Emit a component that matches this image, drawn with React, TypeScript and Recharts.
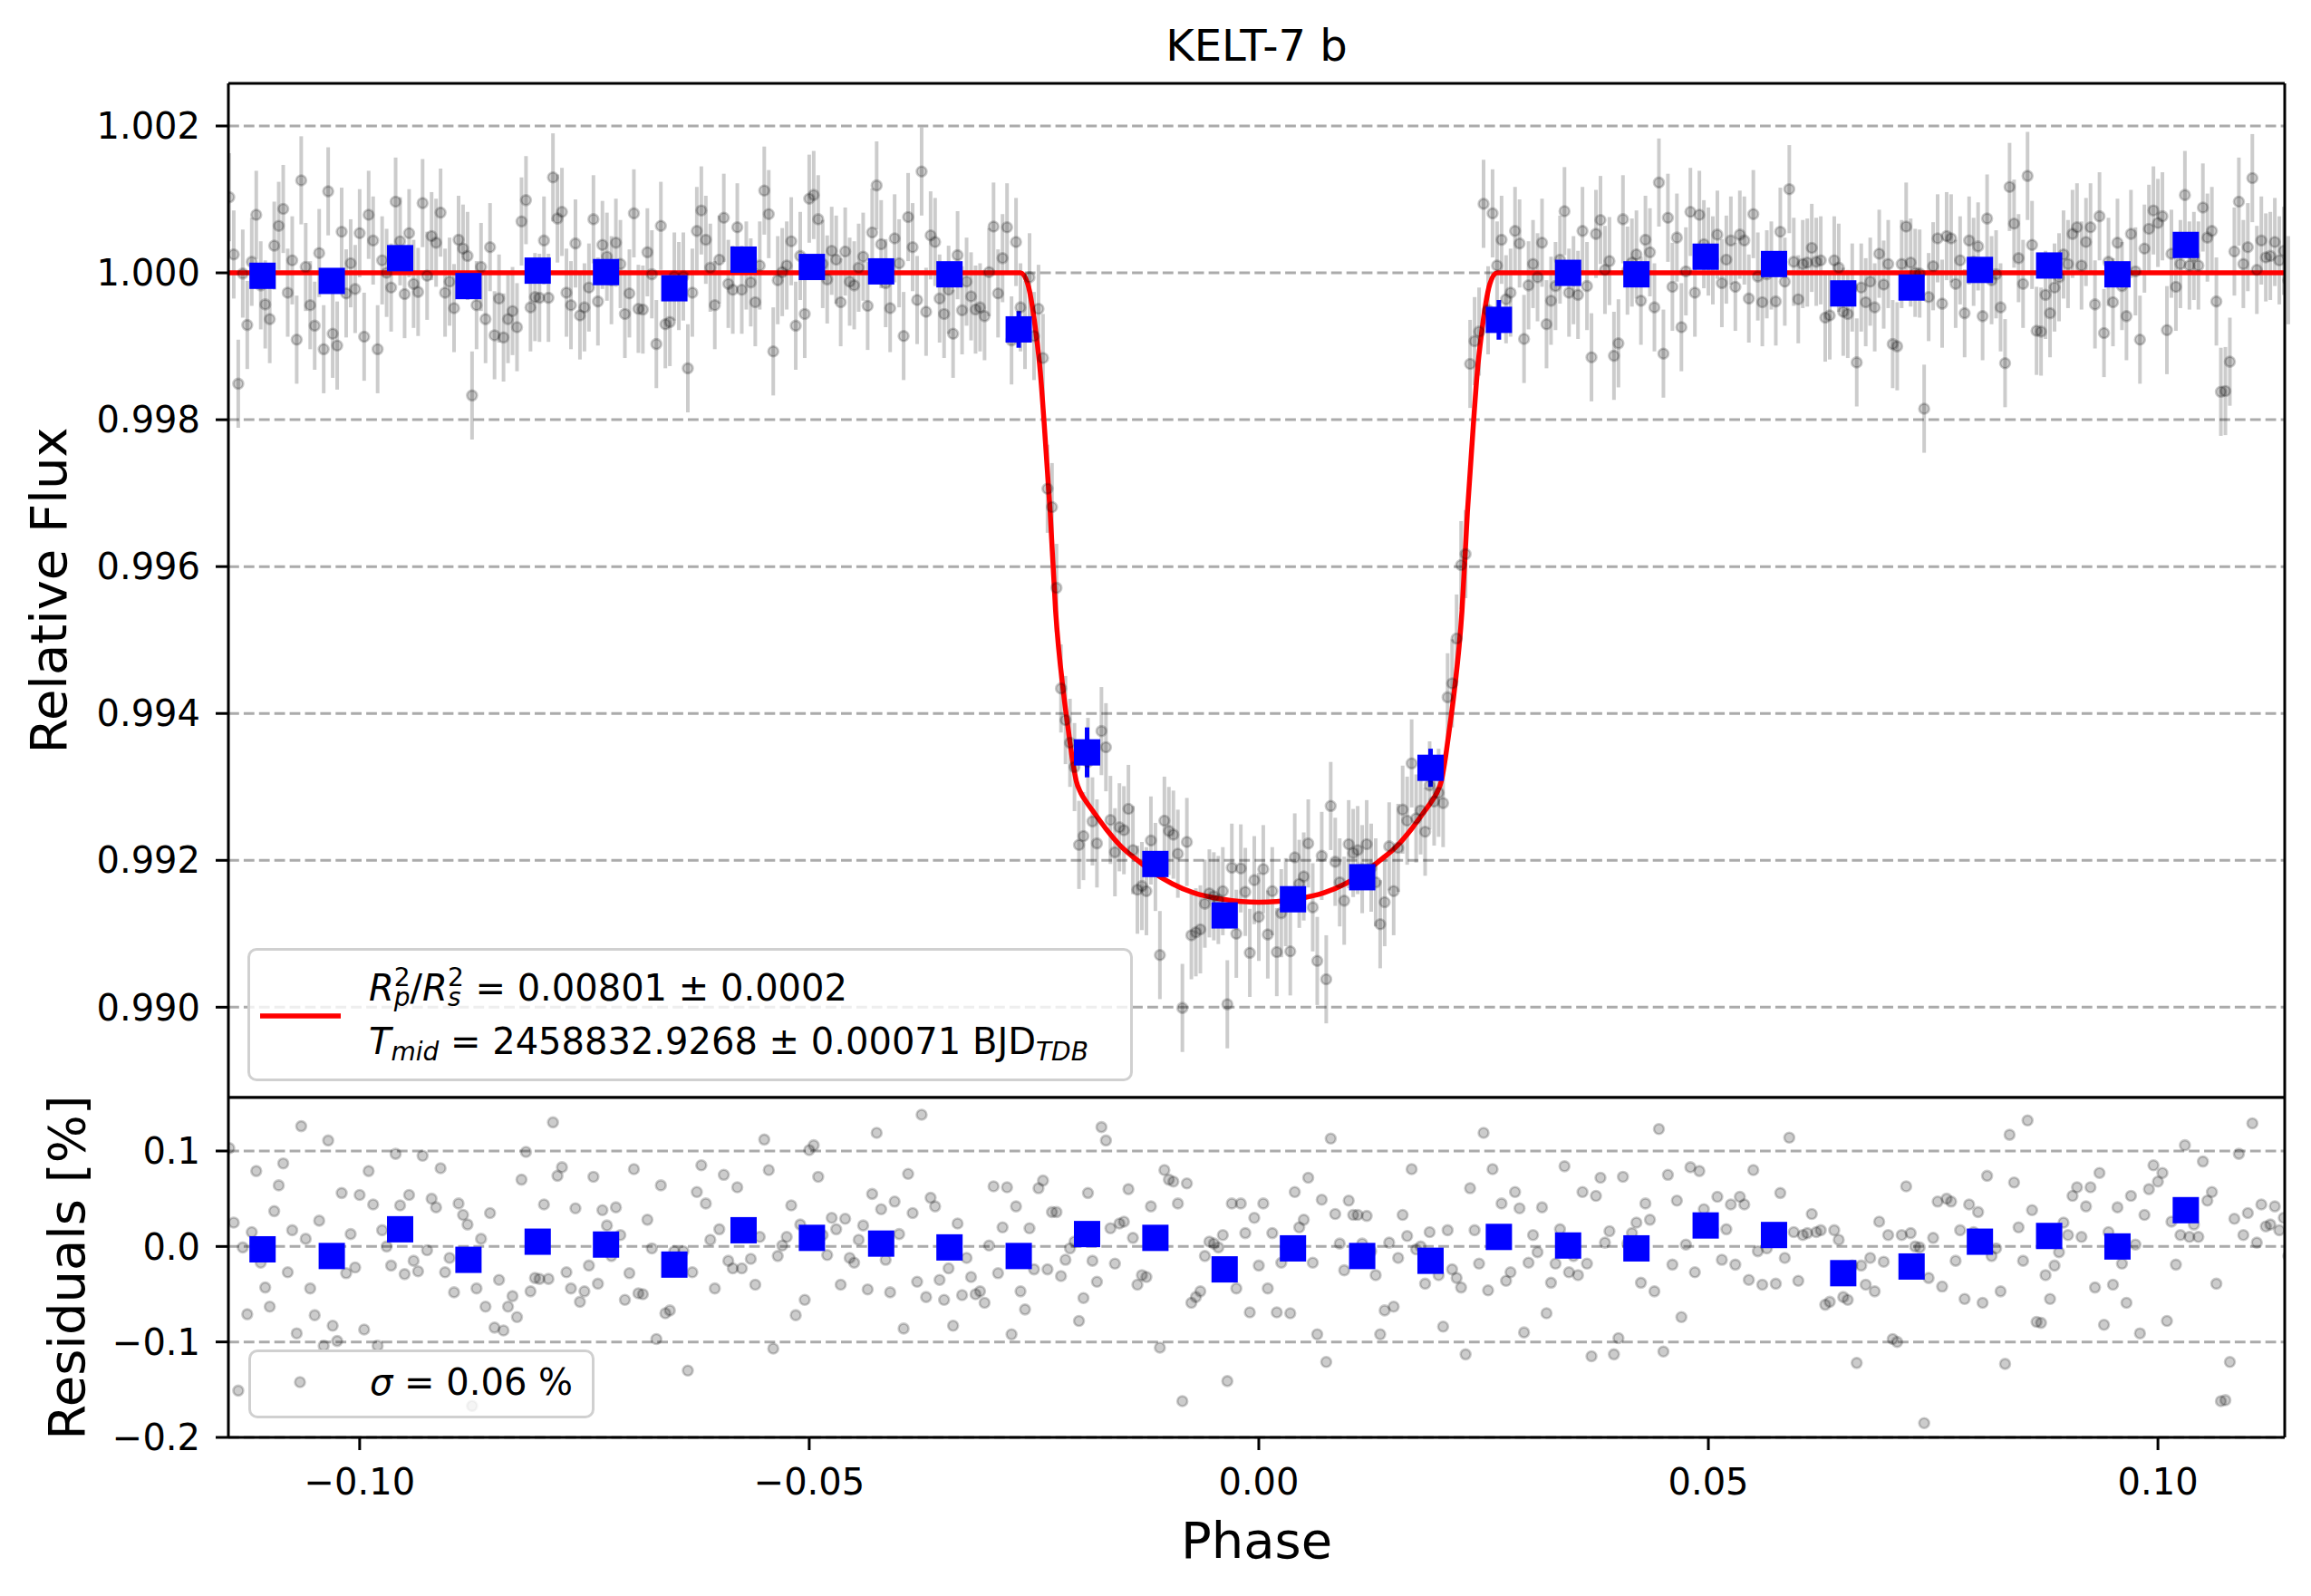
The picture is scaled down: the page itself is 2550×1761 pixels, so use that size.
import React from "react";
import {
  ComposedChart,
  Scatter,
  Line,
  XAxis,
  YAxis,
  CartesianGrid,
  ErrorBar,
  Legend,
  Label,
} from "recharts";

// phase-folded light curve, one point every 0.0005 in phase
const PHASE = [
  -0.1145, -0.114, -0.1135, -0.113, -0.1125, -0.112, -0.1115, -0.111, -0.1105, -0.11,
  -0.1095, -0.109, -0.1085, -0.108, -0.1075, -0.107, -0.1065, -0.106, -0.1055, -0.105,
  -0.1045, -0.104, -0.1035, -0.103, -0.1025, -0.102, -0.1015, -0.101, -0.1005, -0.1,
  -0.0995, -0.099, -0.0985, -0.098, -0.0975, -0.097, -0.0965, -0.096, -0.0955, -0.095,
  -0.0945, -0.094, -0.0935, -0.093, -0.0925, -0.092, -0.0915, -0.091, -0.0905, -0.09,
  -0.0895, -0.089, -0.0885, -0.088, -0.0875, -0.087, -0.0865, -0.086, -0.0855, -0.085,
  -0.0845, -0.084, -0.0835, -0.083, -0.0825, -0.082, -0.0815, -0.081, -0.0805, -0.08,
  -0.0795, -0.079, -0.0785, -0.078, -0.0775, -0.077, -0.0765, -0.076, -0.0755, -0.075,
  -0.0745, -0.074, -0.0735, -0.073, -0.0725, -0.072, -0.0715, -0.071, -0.0705, -0.07,
  -0.0695, -0.069, -0.0685, -0.068, -0.0675, -0.067, -0.0665, -0.066, -0.0655, -0.065,
  -0.0645, -0.064, -0.0635, -0.063, -0.0625, -0.062, -0.0615, -0.061, -0.0605, -0.06,
  -0.0595, -0.059, -0.0585, -0.058, -0.0575, -0.057, -0.0565, -0.056, -0.0555, -0.055,
  -0.0545, -0.054, -0.0535, -0.053, -0.0525, -0.052, -0.0515, -0.051, -0.0505, -0.05,
  -0.0495, -0.049, -0.0485, -0.048, -0.0475, -0.047, -0.0465, -0.046, -0.0455, -0.045,
  -0.0445, -0.044, -0.0435, -0.043, -0.0425, -0.042, -0.0415, -0.041, -0.0405, -0.04,
  -0.0395, -0.039, -0.0385, -0.038, -0.0375, -0.037, -0.0365, -0.036, -0.0355, -0.035,
  -0.0345, -0.034, -0.0335, -0.033, -0.0325, -0.032, -0.0315, -0.031, -0.0305, -0.03,
  -0.0295, -0.029, -0.0285, -0.028, -0.0275, -0.027, -0.0265, -0.026, -0.0255, -0.025,
  -0.0245, -0.024, -0.0235, -0.023, -0.0225, -0.022, -0.0215, -0.021, -0.0205, -0.02,
  -0.0195, -0.019, -0.0185, -0.018, -0.0175, -0.017, -0.0165, -0.016, -0.0155, -0.015,
  -0.0145, -0.014, -0.0135, -0.013, -0.0125, -0.012, -0.0115, -0.011, -0.0105, -0.01,
  -0.0095, -0.009, -0.0085, -0.008, -0.0075, -0.007, -0.0065, -0.006, -0.0055, -0.005,
  -0.0045, -0.004, -0.0035, -0.003, -0.0025, -0.002, -0.0015, -0.001, -0.0005, 0,
  0.0005, 0.001, 0.0015, 0.002, 0.0025, 0.003, 0.0035, 0.004, 0.0045, 0.005,
  0.0055, 0.006, 0.0065, 0.007, 0.0075, 0.008, 0.0085, 0.009, 0.0095, 0.01,
  0.0105, 0.011, 0.0115, 0.012, 0.0125, 0.013, 0.0135, 0.014, 0.0145, 0.015,
  0.0155, 0.016, 0.0165, 0.017, 0.0175, 0.018, 0.0185, 0.019, 0.0195, 0.02,
  0.0205, 0.021, 0.0215, 0.022, 0.0225, 0.023, 0.0235, 0.024, 0.0245, 0.025,
  0.0255, 0.026, 0.0265, 0.027, 0.0275, 0.028, 0.0285, 0.029, 0.0295, 0.03,
  0.0305, 0.031, 0.0315, 0.032, 0.0325, 0.033, 0.0335, 0.034, 0.0345, 0.035,
  0.0355, 0.036, 0.0365, 0.037, 0.0375, 0.038, 0.0385, 0.039, 0.0395, 0.04,
  0.0405, 0.041, 0.0415, 0.042, 0.0425, 0.043, 0.0435, 0.044, 0.0445, 0.045,
  0.0455, 0.046, 0.0465, 0.047, 0.0475, 0.048, 0.0485, 0.049, 0.0495, 0.05,
  0.0505, 0.051, 0.0515, 0.052, 0.0525, 0.053, 0.0535, 0.054, 0.0545, 0.055,
  0.0555, 0.056, 0.0565, 0.057, 0.0575, 0.058, 0.0585, 0.059, 0.0595, 0.06,
  0.0605, 0.061, 0.0615, 0.062, 0.0625, 0.063, 0.0635, 0.064, 0.0645, 0.065,
  0.0655, 0.066, 0.0665, 0.067, 0.0675, 0.068, 0.0685, 0.069, 0.0695, 0.07,
  0.0705, 0.071, 0.0715, 0.072, 0.0725, 0.073, 0.0735, 0.074, 0.0745, 0.075,
  0.0755, 0.076, 0.0765, 0.077, 0.0775, 0.078, 0.0785, 0.079, 0.0795, 0.08,
  0.0805, 0.081, 0.0815, 0.082, 0.0825, 0.083, 0.0835, 0.084, 0.0845, 0.085,
  0.0855, 0.086, 0.0865, 0.087, 0.0875, 0.088, 0.0885, 0.089, 0.0895, 0.09,
  0.0905, 0.091, 0.0915, 0.092, 0.0925, 0.093, 0.0935, 0.094, 0.0945, 0.095,
  0.0955, 0.096, 0.0965, 0.097, 0.0975, 0.098, 0.0985, 0.099, 0.0995, 0.1,
  0.1005, 0.101, 0.1015, 0.102, 0.1025, 0.103, 0.1035, 0.104, 0.1045, 0.105,
  0.1055, 0.106, 0.1065, 0.107, 0.1075, 0.108, 0.1085, 0.109, 0.1095, 0.11,
  0.1105, 0.111, 0.1115, 0.112, 0.1125, 0.113, 0.1135, 0.114, 0.1145,
];

const FLUX = [
  1.00103, 1.00025, 0.99849, 0.99999, 0.99929, 1.00015, 1.00079, 0.99983, 0.99957, 0.99937,
  1.00037, 1.00064, 1.00087, 0.99973, 1.00017, 0.99909, 1.00126, 1.00008, 0.99956, 0.99928,
  1.00027, 0.99896, 1.00111, 0.99917, 0.99901, 1.00056, 0.99972, 1.00013, 0.99978, 1.00054,
  0.99913, 1.00079, 1.00044, 0.99896, 1.00017, 1.0, 0.9998, 1.00097, 1.00043, 0.99971,
  1.00054, 0.99985, 0.99974, 1.00095, 0.99996, 1.0005, 1.00041, 1.00082, 0.99973, 0.99988,
  0.99952, 1.00045, 1.00033, 1.00023, 0.99833, 0.99956, 1.00008, 0.99937, 1.00035, 0.99915,
  0.99965, 0.99912, 0.99937, 0.99948, 0.99926, 1.0007, 1.00099, 0.99953, 0.99967, 0.99966,
  1.00044, 0.99966, 1.0013, 1.00074, 1.00083, 0.99973, 0.99956, 1.0004, 0.99942, 0.99953,
  0.9998, 1.00073, 0.99961, 1.00038, 1.00022, 0.9999, 1.00041, 1.00012, 0.99944, 0.99972,
  1.00081, 0.99951, 0.9995, 1.00028, 0.99998, 0.99903, 1.00064, 0.9993, 0.99933, 0.99995,
  0.99982, 0.99995, 0.9987, 0.99973, 1.00057, 1.00085, 1.00045, 1.00007, 0.99956, 1.00018,
  1.00075, 0.99985, 0.99977, 1.00062, 0.99977, 1.0001, 0.99987, 0.9996, 1.0001, 1.00112,
  1.0008, 0.99893, 0.9999, 1.00001, 1.0001, 1.00043, 0.99928, 1.00023, 0.99944, 1.00101,
  1.00106, 1.00073, 1.00012, 0.99991, 1.0003, 1.00018, 0.9996, 1.00029, 0.99988, 0.99983,
  1.00007, 1.00022, 0.99955, 1.00055, 1.00119, 1.00039, 0.99986, 0.99952, 1.00047, 1.00013,
  0.99914, 1.00076, 1.00035, 0.99963, 1.00138, 0.99947, 1.00051, 1.00042, 0.99965, 0.99944,
  0.99977, 0.99917, 1.00024, 0.99949, 0.99988, 0.99968, 0.9995, 0.99953, 0.99941, 1.00001,
  1.00063, 0.99972, 1.0002, 1.00062, 0.99908, 1.00042, 0.99953, 0.99929, 0.99994, 0.99914,
  0.99951, 0.99884, 0.99706, 0.99681, 0.99571, 0.99434, 0.99391, 0.9936, 0.99327, 0.99221,
  0.99233, 0.99334, 0.99253, 0.99223, 0.99376, 0.99354, 0.99255, 0.99211, 0.99245, 0.99241,
  0.9927, 0.99214, 0.9916, 0.99165, 0.99158, 0.99227, 0.99191, 0.99071, 0.99254, 0.9924,
  0.99235, 0.99209, 0.98999, 0.99225, 0.99098, 0.99102, 0.99106, 0.99141, 0.99155, 0.99151,
  0.99146, 0.99158, 0.99004, 0.9919, 0.991, 0.99189, 0.99157, 0.99074, 0.99173, 0.99123,
  0.99188, 0.99099, 0.99158, 0.99075, 0.99128, 0.99143, 0.99076, 0.99204, 0.99168, 0.99178,
  0.99223, 0.99136, 0.99063, 0.99206, 0.99038, 0.99274, 0.99198, 0.9917, 0.99145, 0.99222,
  0.9921, 0.99214, 0.99188, 0.99222, 0.9919, 0.9917, 0.99113, 0.99143, 0.99219, 0.99158,
  0.99217, 0.99269, 0.99254, 0.99332, 0.99257, 0.99268, 0.99239, 0.99302, 0.9928, 0.99292,
  0.99278, 0.99422, 0.99441, 0.99502, 0.99602, 0.99617, 0.99876, 0.99907, 0.9992, 1.00094,
  0.99949, 1.00081, 1.0001, 1.00045, 0.99964, 0.99973, 1.00057, 1.0004, 0.9991, 0.99983,
  1.00012, 0.99994, 1.00041, 0.9993, 0.99962, 0.99982, 1.00018, 1.00084, 0.99973, 0.9999,
  0.9997, 1.00057, 0.99982, 0.99885, 1.00053, 1.00072, 1.00004, 1.00016, 0.99887, 0.99904,
  1.00073, 1.00003, 1.00014, 1.00025, 0.99962, 1.00045, 1.00028, 0.99953, 1.00123, 0.9989,
  1.00075, 0.99981, 1.00048, 0.99926, 1.00002, 1.00083, 0.99973, 1.00079, 1.00039, 1.00029,
  1.00017, 1.00052, 0.99986, 1.00018, 1.00044, 0.99981, 1.00052, 1.00044, 0.99965, 1.0008,
  0.99995, 0.9996, 0.99998, 1.0001, 0.99961, 1.00056, 0.99988, 1.00114, 1.00015, 0.99964,
  1.00012, 1.00014, 1.00034, 1.00015, 1.00017, 0.99939, 0.99942, 1.00017, 1.00007, 0.99947,
  0.99944, 0.9998, 0.99878, 0.9998, 0.9996, 0.99988, 0.99953, 1.00026, 0.99984, 1.00012,
  0.99903, 0.999, 1.00012, 1.00063, 1.00014, 1.0, 0.99999, 0.99815, 0.99967, 1.00009,
  1.00047, 0.99958, 1.0005, 1.00047, 0.99985, 1.00017, 0.99945, 1.00044, 1.00015, 1.00036,
  0.99941, 1.00074, 0.9999, 0.99998, 0.99953, 0.99877, 1.00117, 1.00067, 1.0002, 0.99985,
  1.00132, 1.00038, 0.99921, 0.9992, 0.9997, 0.99945, 0.9998, 0.99994, 1.00025, 1.00012,
  1.00053, 1.00062, 1.0001, 1.00042, 1.00062, 0.99957, 1.00077, 0.99918, 1.00015, 0.9996,
  1.00041, 0.99982, 0.99941, 1.00053, 1.00002, 0.99909, 1.00033, 1.0006, 1.00085, 1.00068,
  1.00077, 0.99922, 1.00026, 0.99981, 1.00012, 1.00106, 1.0001, 1.00023, 1.0001, 1.00089,
  1.00048, 1.00057, 0.99961, 0.99838, 0.99839, 0.99879, 1.00029, 1.00097, 1.00012, 1.00035,
  1.00129, 1.00004, 1.00044, 1.00021, 1.00023, 1.00042, 1.00017, 1.0003, 0.9999,
];

// residuals in percent, same points
const RESID = [
  0.103, 0.025, -0.151, -0.001, -0.071, 0.015, 0.079, -0.017, -0.043, -0.063,
  0.037, 0.064, 0.087, -0.027, 0.017, -0.091, 0.126, 0.008, -0.044, -0.072,
  0.027, -0.104, 0.111, -0.083, -0.099, 0.056, -0.028, 0.013, -0.022, 0.054,
  -0.087, 0.079, 0.044, -0.104, 0.017, 0.0, -0.02, 0.097, 0.043, -0.029,
  0.054, -0.015, -0.026, 0.095, -0.004, 0.05, 0.041, 0.082, -0.027, -0.012,
  -0.048, 0.045, 0.033, 0.023, -0.167, -0.044, 0.008, -0.063, 0.035, -0.085,
  -0.035, -0.088, -0.063, -0.052, -0.074, 0.07, 0.099, -0.047, -0.033, -0.034,
  0.044, -0.034, 0.13, 0.074, 0.083, -0.027, -0.044, 0.04, -0.058, -0.047,
  -0.02, 0.073, -0.039, 0.038, 0.022, -0.01, 0.041, 0.012, -0.056, -0.028,
  0.081, -0.049, -0.05, 0.028, -0.002, -0.097, 0.064, -0.07, -0.067, -0.005,
  -0.018, -0.005, -0.13, -0.027, 0.057, 0.085, 0.045, 0.007, -0.044, 0.018,
  0.075, -0.015, -0.023, 0.062, -0.023, 0.01, -0.013, -0.04, 0.01, 0.112,
  0.08, -0.107, -0.01, 0.001, 0.01, 0.043, -0.072, 0.023, -0.056, 0.101,
  0.106, 0.073, 0.012, -0.009, 0.03, 0.018, -0.04, 0.029, -0.012, -0.017,
  0.007, 0.022, -0.045, 0.055, 0.119, 0.039, -0.014, -0.048, 0.047, 0.013,
  -0.086, 0.076, 0.035, -0.037, 0.138, -0.053, 0.051, 0.042, -0.035, -0.056,
  -0.023, -0.083, 0.024, -0.051, -0.012, -0.032, -0.05, -0.047, -0.059, 0.001,
  0.063, -0.028, 0.02, 0.062, -0.092, 0.042, -0.047, -0.066, 0.019, -0.024,
  0.061, 0.069, -0.024, 0.036, 0.036, -0.031, -0.014, -0.002, 0.005, -0.078,
  -0.054, 0.056, -0.015, -0.037, 0.125, 0.111, 0.019, -0.018, 0.024, 0.026,
  0.06, 0.009, -0.04, -0.03, -0.032, 0.042, 0.01, -0.106, 0.08, 0.07,
  0.068, 0.045, -0.162, 0.066, -0.059, -0.053, -0.047, -0.01, 0.005, 0.003,
  -0.001, 0.012, -0.141, 0.045, -0.044, 0.045, 0.014, -0.069, 0.03, -0.02,
  0.045, -0.044, 0.014, -0.069, -0.017, -0.002, -0.07, 0.057, 0.02, 0.028,
  0.072, -0.017, -0.092, 0.049, -0.121, 0.113, 0.034, 0.003, -0.025, 0.048,
  0.033, 0.033, 0.003, 0.032, -0.005, -0.03, -0.092, -0.067, 0.004, -0.063,
  -0.012, 0.033, 0.011, 0.081, -0.003, 0.0, -0.039, 0.015, -0.019, -0.03,
  -0.084, 0.017, -0.024, -0.033, -0.043, -0.113, 0.061, 0.017, -0.018, 0.119,
  -0.046, 0.081, 0.01, 0.045, -0.036, -0.027, 0.057, 0.04, -0.09, -0.017,
  0.012, -0.006, 0.041, -0.07, -0.038, -0.018, 0.018, 0.084, -0.027, -0.01,
  -0.03, 0.057, -0.018, -0.115, 0.053, 0.072, 0.004, 0.016, -0.113, -0.096,
  0.073, 0.003, 0.014, 0.025, -0.038, 0.045, 0.028, -0.047, 0.123, -0.11,
  0.075, -0.019, 0.048, -0.074, 0.002, 0.083, -0.027, 0.079, 0.039, 0.029,
  0.017, 0.052, -0.014, 0.018, 0.044, -0.019, 0.052, 0.044, -0.035, 0.08,
  -0.005, -0.04, -0.002, 0.01, -0.039, 0.056, -0.012, 0.114, 0.015, -0.036,
  0.012, 0.014, 0.034, 0.015, 0.017, -0.061, -0.058, 0.017, 0.007, -0.053,
  -0.056, -0.02, -0.122, -0.02, -0.04, -0.012, -0.047, 0.026, -0.016, 0.012,
  -0.097, -0.1, 0.012, 0.063, 0.014, 0.0, -0.001, -0.185, -0.033, 0.009,
  0.047, -0.042, 0.05, 0.047, -0.015, 0.017, -0.055, 0.044, 0.015, 0.036,
  -0.059, 0.074, -0.01, -0.002, -0.047, -0.123, 0.117, 0.067, 0.02, -0.015,
  0.132, 0.038, -0.079, -0.08, -0.03, -0.055, -0.02, -0.006, 0.025, 0.012,
  0.053, 0.062, 0.01, 0.042, 0.062, -0.043, 0.077, -0.082, 0.015, -0.04,
  0.041, -0.018, -0.059, 0.053, 0.002, -0.091, 0.033, 0.06, 0.085, 0.068,
  0.077, -0.078, 0.026, -0.019, 0.012, 0.106, 0.01, 0.023, 0.01, 0.089,
  0.048, 0.057, -0.039, -0.162, -0.161, -0.121, 0.029, 0.097, 0.012, 0.035,
  0.129, 0.004, 0.044, 0.021, 0.023, 0.042, 0.017, 0.03, -0.01,
];

const POINT_ERR = 0.0006;

// binned points (blue squares)
const BIN_PHASE = [
  -0.1108, -0.1031, -0.0955, -0.0879, -0.0802, -0.0726, -0.065, -0.0573, -0.0497, -0.042,
  -0.0344, -0.0267, -0.0191, -0.0115, -0.0038, 0.0038, 0.0115, 0.0191, 0.0267, 0.0344,
  0.042, 0.0497, 0.0573, 0.065, 0.0726, 0.0802, 0.0879, 0.0955, 0.1031,
];
const BIN_FLUX = [
  0.99996, 0.99989, 1.0002, 0.99982, 1.00003, 1.00001, 0.99979, 1.00018, 1.00008, 1.00002,
  0.99998, 0.99923, 0.99347, 0.99195, 0.99125, 0.99147, 0.99177, 0.99326, 0.99936, 1.0,
  0.99998, 1.00022, 1.00012, 0.99972, 0.9998, 1.00004, 1.0001, 0.99998, 1.00038,
];
const BIN_ERR = [
  0.00012, 0.00012, 0.00012, 0.00012, 0.00012, 0.00012, 0.00012, 0.00012, 0.00012, 0.00012,
  0.00012, 0.00025, 0.00034, 0.00014, 0.00012, 0.00012, 0.00014, 0.00026, 0.00027, 0.00012,
  0.00012, 0.00012, 0.00012, 0.00012, 0.00012, 0.00012, 0.00012, 0.00012, 0.00012,
];
const BIN_RESID = [
  -0.003, -0.01, 0.018, -0.014, 0.005, 0.002, -0.019, 0.017, 0.009, 0.003,
  -0.001, -0.01, 0.013, 0.009, -0.024, -0.002, -0.01, -0.015, 0.01, 0.001,
  -0.002, 0.022, 0.012, -0.028, -0.021, 0.005, 0.011, 0.0, 0.038,
];

// transit model (red curve)
const MODEL_PHASE = [
  -0.1146, -0.0265, -0.0257, -0.0252, -0.0248, -0.0243, -0.0239, -0.0232, -0.0226, -0.0217,
  -0.0211, -0.0207, -0.0203, -0.0198, -0.0192, -0.0185, -0.017, -0.0154, -0.0136, -0.0118,
  -0.0096, -0.0073, -0.004, 0.0, 0.004, 0.0073, 0.0096, 0.0118, 0.0136, 0.0154,
  0.017, 0.0185, 0.0192, 0.0198, 0.0203, 0.0207, 0.0211, 0.0217, 0.0226, 0.0232,
  0.0239, 0.0243, 0.0248, 0.0252, 0.0257, 0.0265, 0.1141,
];
const MODEL_FLUX = [
  1.0, 1.0, 0.99985, 0.99955, 0.9992, 0.99865, 0.998, 0.99674, 0.9954, 0.99426,
  0.9937, 0.99335, 0.99308, 0.99292, 0.9928, 0.99268, 0.99243, 0.9922, 0.99201, 0.99184,
  0.99168, 0.99156, 0.99147, 0.99143, 0.99147, 0.99156, 0.99168, 0.99184, 0.99201, 0.9922,
  0.99243, 0.99268, 0.9928, 0.99292, 0.99308, 0.99335, 0.9937, 0.99426, 0.9954, 0.99674,
  0.998, 0.99865, 0.9992, 0.99955, 0.99985, 1.0, 1.0,
];

const FLUX_TICKS = [0.99, 0.992, 0.994, 0.996, 0.998, 1.0, 1.002];
const RESID_TICKS = [-0.2, -0.1, 0.0, 0.1];
const PHASE_TICKS = [-0.1, -0.05, 0.0, 0.05, 0.1];

const points = PHASE.map((p, i) => ({ phase: p, flux: FLUX[i], err: POINT_ERR, resid: RESID[i] }));
const bins = BIN_PHASE.map((p, i) => ({ phase: p, flux: BIN_FLUX[i], err: BIN_ERR[i], resid: BIN_RESID[i] }));
const model = MODEL_PHASE.map((p, i) => ({ phase: p, flux: MODEL_FLUX[i] }));

const FONT = "'DejaVu Sans', sans-serif";
const X_DOMAIN = [-0.1146, 0.1141];
const FLUX_DOMAIN = [0.98877, 1.00258];
const RESID_DOMAIN = [-0.2, 0.156];
const AXIS_LINE = { stroke: "#000", strokeWidth: 3 };
const TICK_LINE = { stroke: "#000", strokeWidth: 3 };
const TICK_TEXT = { fontSize: 40, fill: "#000", fontFamily: FONT };
const GRID_DASH = "11.8 5.1";

const signed = (v: number, d: number) => (v < 0 ? "\u2212" : "") + Math.abs(v).toFixed(d);

const GreyDot = (props: any) => (
  <circle
    cx={props.cx}
    cy={props.cy}
    r={5.5}
    fill="rgba(0,0,0,0.2)"
    stroke="rgba(0,0,0,0.2)"
    strokeWidth={2.6}
  />
);

const BlueSquare = (props: any) => (
  <rect x={props.cx - 14.5} y={props.cy - 14.5} width={29} height={29} fill="#0000ff" />
);

const legendBox = (w: number, h: number): React.CSSProperties => ({
  position: "relative",
  width: w,
  height: h,
  boxSizing: "border-box",
  border: "3px solid #d0d0d0",
  borderRadius: 10,
  background: "rgba(255,255,255,0.8)",
});

function FitLegend() {
  return (
    <div style={legendBox(977, 147)}>
      <svg width={977} height={147} style={{ position: "absolute", left: -3, top: -3 }}>
        <line x1={14} x2={103} y1={75} y2={75} stroke="#ff0000" strokeWidth={5.5} />
        <text x={134} y={58} fontSize={40} fontFamily={FONT} fill="#000">
          <tspan fontStyle="italic">R</tspan>
          <tspan fontStyle="italic" fontSize={28} dy={6}>p</tspan>
          <tspan fontSize={28} dx={-17.8} dy={-22}>2</tspan>
          <tspan dy={16}>/</tspan>
          <tspan fontStyle="italic">R</tspan>
          <tspan fontStyle="italic" fontSize={28} dy={6}>s</tspan>
          <tspan fontSize={28} dx={-14.6} dy={-22}>2</tspan>
          <tspan dy={16}>{"\u00a0= 0.00801 \u00b1 0.0002"}</tspan>
        </text>
        <text x={134} y={117} fontSize={40} fontFamily={FONT} fill="#000">
          <tspan fontStyle="italic">T</tspan>
          <tspan fontStyle="italic" fontSize={28} dy={7}>mid</tspan>
          <tspan dy={-7}>{"\u00a0= 2458832.9268 \u00b1 0.00071 BJD"}</tspan>
          <tspan fontStyle="italic" fontSize={28} dy={7}>TDB</tspan>
        </text>
      </svg>
    </div>
  );
}

function SigmaLegend() {
  return (
    <div style={legendBox(382, 76)}>
      <svg width={382} height={76} style={{ position: "absolute", left: -3, top: -3 }}>
        <circle cx={57} cy={36} r={5.5} fill="rgba(0,0,0,0.2)" stroke="rgba(0,0,0,0.2)" strokeWidth={2.6} />
        <text x={134} y={50} fontSize={40} fontFamily={FONT} fill="#000">
          <tspan fontStyle="italic">{"\u03c3"}</tspan>
          <tspan>{"\u00a0= 0.06 %"}</tspan>
        </text>
      </svg>
    </div>
  );
}

// frame lines on the top and right sides (axes with no ticks)
function frameAxes(domainY: number[]) {
  return [
    <XAxis
      key="top"
      xAxisId="top"
      orientation="top"
      type="number"
      domain={X_DOMAIN}
      allowDataOverflow
      tick={false}
      tickLine={false}
      height={1}
      axisLine={AXIS_LINE}
    />,
    <YAxis
      key="right"
      yAxisId="right"
      orientation="right"
      type="number"
      domain={domainY}
      allowDataOverflow
      width={1}
      tick={false}
      tickLine={false}
      axisLine={AXIS_LINE}
    />,
  ];
}

export default function App() {
  return (
    <div
      style={{
        position: "absolute",
        left: 0,
        top: 0,
        width: 2550,
        height: 1761,
        background: "#fff",
        fontFamily: FONT,
      }}
    >
      {/* light curve panel */}
      <div style={{ position: "absolute", left: 0, top: 0 }}>
        <ComposedChart width={2550} height={1212} margin={{ top: 91, right: 28, bottom: 0, left: 20 }}>
          <CartesianGrid vertical={false} syncWithTicks stroke="#ababab" strokeWidth={3} strokeDasharray={GRID_DASH} />
          <XAxis
            type="number"
            dataKey="phase"
            domain={X_DOMAIN}
            allowDataOverflow
            ticks={PHASE_TICKS}
            tick={false}
            tickLine={false}
            height={1}
            axisLine={AXIS_LINE}
          />
          <XAxis
            xAxisId="top"
            orientation="top"
            type="number"
            domain={X_DOMAIN}
            allowDataOverflow
            tick={false}
            tickLine={false}
            height={1}
            axisLine={AXIS_LINE}
          >
            <Label value="KELT-7 b" position="top" offset={24} style={{ fontSize: 48, fill: "#000", fontFamily: FONT }} />
          </XAxis>
          <YAxis
            type="number"
            domain={FLUX_DOMAIN}
            allowDataOverflow
            ticks={FLUX_TICKS}
            interval={0}
            width={232}
            tickSize={14}
            tickMargin={17}
            tick={TICK_TEXT}
            tickLine={TICK_LINE}
            axisLine={AXIS_LINE}
            tickFormatter={(v: number) => v.toFixed(3)}
          >
            <Label
              value="Relative Flux"
              angle={-90}
              position="insideLeft"
              offset={33}
              style={{ textAnchor: "middle", fontSize: 56, fill: "#000", fontFamily: FONT }}
            />
          </YAxis>
          <YAxis
            yAxisId="right"
            orientation="right"
            type="number"
            domain={FLUX_DOMAIN}
            allowDataOverflow
            width={1}
            tick={false}
            tickLine={false}
            axisLine={AXIS_LINE}
          />
          <Scatter data={points} dataKey="flux" shape={GreyDot} isAnimationActive={false}>
            <ErrorBar dataKey="err" direction="y" width={0} stroke="rgba(0,0,0,0.2)" strokeWidth={4} />
          </Scatter>
          <Scatter data={bins} dataKey="flux" shape={BlueSquare} isAnimationActive={false}>
            <ErrorBar dataKey="err" direction="y" width={0} stroke="#0000ff" strokeWidth={5} />
          </Scatter>
          <Line
            data={model}
            dataKey="flux"
            type="monotone"
            stroke="#ff0000"
            strokeWidth={5.5}
            dot={false}
            activeDot={false}
            isAnimationActive={false}
          />
          <Legend
            layout="horizontal"
            verticalAlign="middle"
            align="center"
            wrapperStyle={{ left: 273, top: 1046, width: 977, height: 147 }}
            content={() => <FitLegend />}
          />
        </ComposedChart>
      </div>

      {/* residual panel; starts higher so its rotated axis title has room */}
      <div style={{ position: "absolute", left: 0, top: 1100 }}>
        <ComposedChart width={2550} height={661} margin={{ top: 110, right: 28, bottom: 0, left: 20 }}>
          <CartesianGrid vertical={false} syncWithTicks stroke="#ababab" strokeWidth={3} strokeDasharray={GRID_DASH} />
          <XAxis
            type="number"
            dataKey="phase"
            domain={X_DOMAIN}
            allowDataOverflow
            ticks={PHASE_TICKS}
            interval={0}
            height={175}
            tickSize={14}
            tickMargin={21}
            tick={TICK_TEXT}
            tickLine={TICK_LINE}
            axisLine={AXIS_LINE}
            tickFormatter={(v: number) => signed(v, 2)}
          >
            <Label value="Phase" position="insideTop" offset={93} style={{ fontSize: 56, fill: "#000", fontFamily: FONT }} />
          </XAxis>
          <YAxis
            type="number"
            domain={RESID_DOMAIN}
            allowDataOverflow
            ticks={RESID_TICKS}
            interval={0}
            width={232}
            tickSize={14}
            tickMargin={17}
            tick={TICK_TEXT}
            tickLine={TICK_LINE}
            axisLine={AXIS_LINE}
            tickFormatter={(v: number) => signed(v, 1)}
          >
            <Label
              value="Residuals [%]"
              angle={-90}
              position="insideLeft"
              offset={53}
              style={{ textAnchor: "middle", fontSize: 56, fill: "#000", fontFamily: FONT }}
            />
          </YAxis>
          {frameAxes(RESID_DOMAIN)}
          <Scatter data={points} dataKey="resid" shape={GreyDot} isAnimationActive={false} />
          <Scatter data={bins} dataKey="resid" shape={BlueSquare} isAnimationActive={false} />
          <Legend
            layout="horizontal"
            verticalAlign="middle"
            align="center"
            wrapperStyle={{ left: 274, top: 389, width: 382, height: 76 }}
            content={() => <SigmaLegend />}
          />
        </ComposedChart>
      </div>
    </div>
  );
}
